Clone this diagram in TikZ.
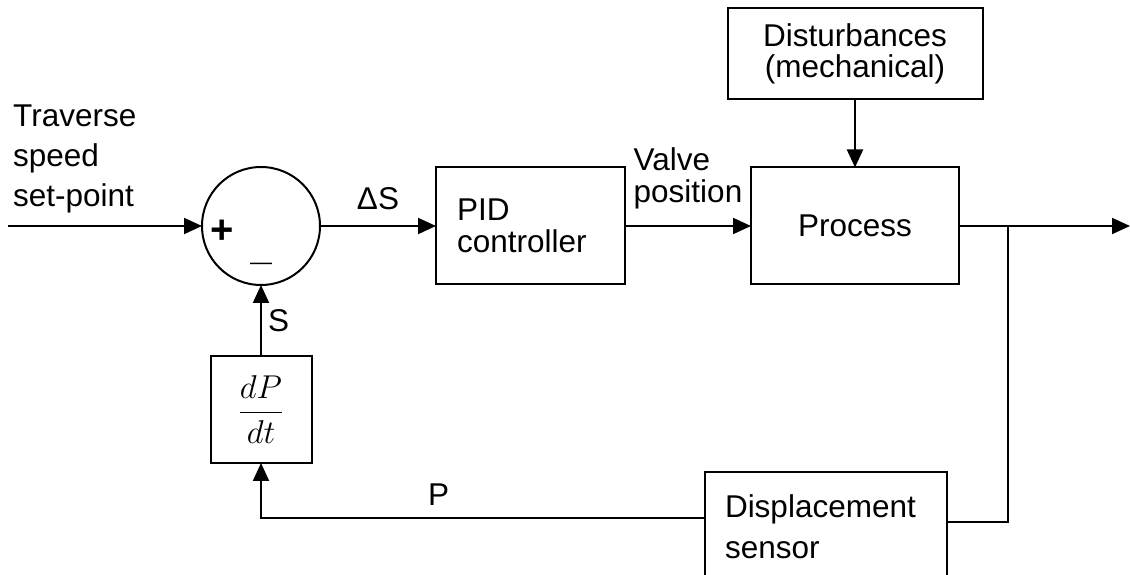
\RequirePackage{fix-cm}
\documentclass[tikz,border=0pt]{standalone}
\usepackage{amsmath}
\usepackage{fontspec}
\setmainfont{Liberation Sans}
\usepackage{tikz}
\usepackage{xcolor}
\usetikzlibrary{positioning, arrows.meta}
\definecolor{cLine}{HTML}{000000}

\tikzset{
  blk/.style={draw=cLine, line width=2pt, inner sep=0pt, outer sep=0pt,
    font=\fontsize{31.5}{32}\selectfont},
  lbl/.style={inner sep=0pt, font=\fontsize{31.5}{32}\selectfont},
  wire/.style={draw=cLine, line width=2pt},
  flow/.style={wire, -{Triangle[length=18pt, width=16pt]}},
}

\begin{document}
\begin{tikzpicture}[x=1pt, y=1pt]
  \useasboundingbox (0,0) rectangle (1130,575);

  \node[blk, circle, minimum size=118pt] (sum) at (261,349) {};
  \node[blk, minimum width=189pt, minimum height=117pt, text width=147pt,
        inner xsep=21pt, align=left] (pid) at (530.5,349) {PID\\controller};
  \node[blk, minimum width=208pt, minimum height=117pt] (proc) at (855,349) {Process};
  \node[blk, minimum width=255pt, minimum height=91pt, align=center,
        font=\fontsize{31.5}{31}\selectfont] (dist) at (855,521.5) {Disturbances\\(mechanical)};
  \node[blk, minimum width=101pt, minimum height=107pt, font=\fontsize{33}{34}\selectfont]
        (deriv) at (261,165.5) {$\dfrac{dP}{dt}$};
  \node[blk, minimum width=242pt, minimum height=110pt, text width=202pt,
        inner xsep=20pt, align=left, font=\fontsize{31.5}{41}\selectfont]
        (sensor) at (826,48) {Displacement\\sensor};

  \coordinate (in) at (8,349);
  \coordinate (out) at (1130,349);
  \coordinate (br) at (1008,349);

  \node[lbl, anchor=north west, align=left, font=\fontsize{31.5}{40}\selectfont]
        (setpt) at (13,470) {Traverse\\speed\\set-point};
  \node[lbl, font=\fontsize{40}{40}\bfseries] (plus) at (222,343) {+};
  \node[lbl, font=\fontsize{22}{22}\selectfont] (minus) at (261,309) {—};

  \draw[flow] (in) -- (sum);
  \draw[flow] (sum) -- node[lbl, above=15pt] {ΔS} (pid);
  \draw[flow] (pid) -- node[lbl, above=16pt, align=left] {Valve\\position} (proc);
  \draw[flow] (dist) -- (proc);
  \draw[wire] (proc) -- (br);
  \draw[flow] (br) -- (out);
  \draw[wire] (br) |- ([yshift=5pt]sensor.east);
  \draw[flow] ([yshift=9pt]sensor.west) -| node[lbl, pos=0.3, above=11pt] {P} (deriv);
  \draw[flow] (deriv) -- node[lbl, right=6pt] {S} (sum);
\end{tikzpicture}
\end{document}
